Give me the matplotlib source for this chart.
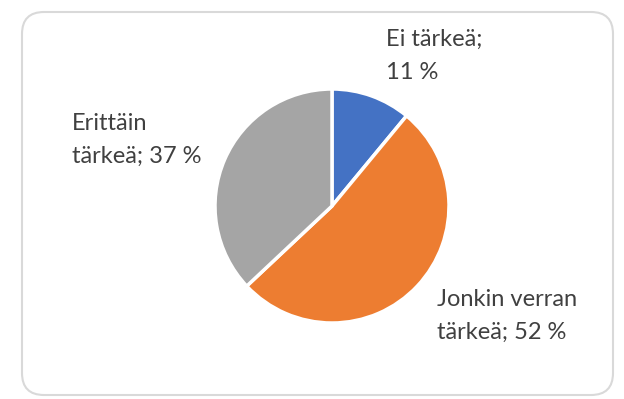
import matplotlib
matplotlib.use("Agg")
import matplotlib.pyplot as plt
from matplotlib.patches import FancyBboxPatch

# Data
labels = ["Ei tärkeä", "Jonkin verran tärkeä", "Erittäin tärkeä"]
shares = [11, 52, 37]
colors = ["#4472C4", "#ED7D31", "#A5A5A5"]
label_texts = ["Ei tärkeä;\n11 %", "Jonkin verran\ntärkeä; 52 %", "Erittäin\ntärkeä; 37 %"]

W, H = 624, 399
fig = plt.figure(figsize=(W / 100, H / 100), dpi=100)
ax = fig.add_axes([0, 0, 1, 1])

# Rounded chart frame
frame = FancyBboxPatch((22, 4), 591, 383, boxstyle="round,pad=0,rounding_size=22",
                       facecolor="white", edgecolor="#d9d9d9", linewidth=1.5)
ax.add_patch(frame)

ax.pie(shares, colors=colors, startangle=90, counterclock=False,
       center=(332, H - 206), radius=117, frame=True,
       wedgeprops=dict(edgecolor="white", linewidth=2.5))
ax.set_xlim(0, W)
ax.set_ylim(0, H)
ax.set_aspect("equal")
ax.axis("off")

# Data labels
label_pos = [(386, H - 29), (437, H - 289), (72, H - 113)]
for txt, (x, y) in zip(label_texts, label_pos):
    ax.text(x, y, txt, ha="left", va="top", fontsize=17, family="Lato",
            color="#404040", linespacing=1.7)

fig.savefig("out.png", dpi=100)
